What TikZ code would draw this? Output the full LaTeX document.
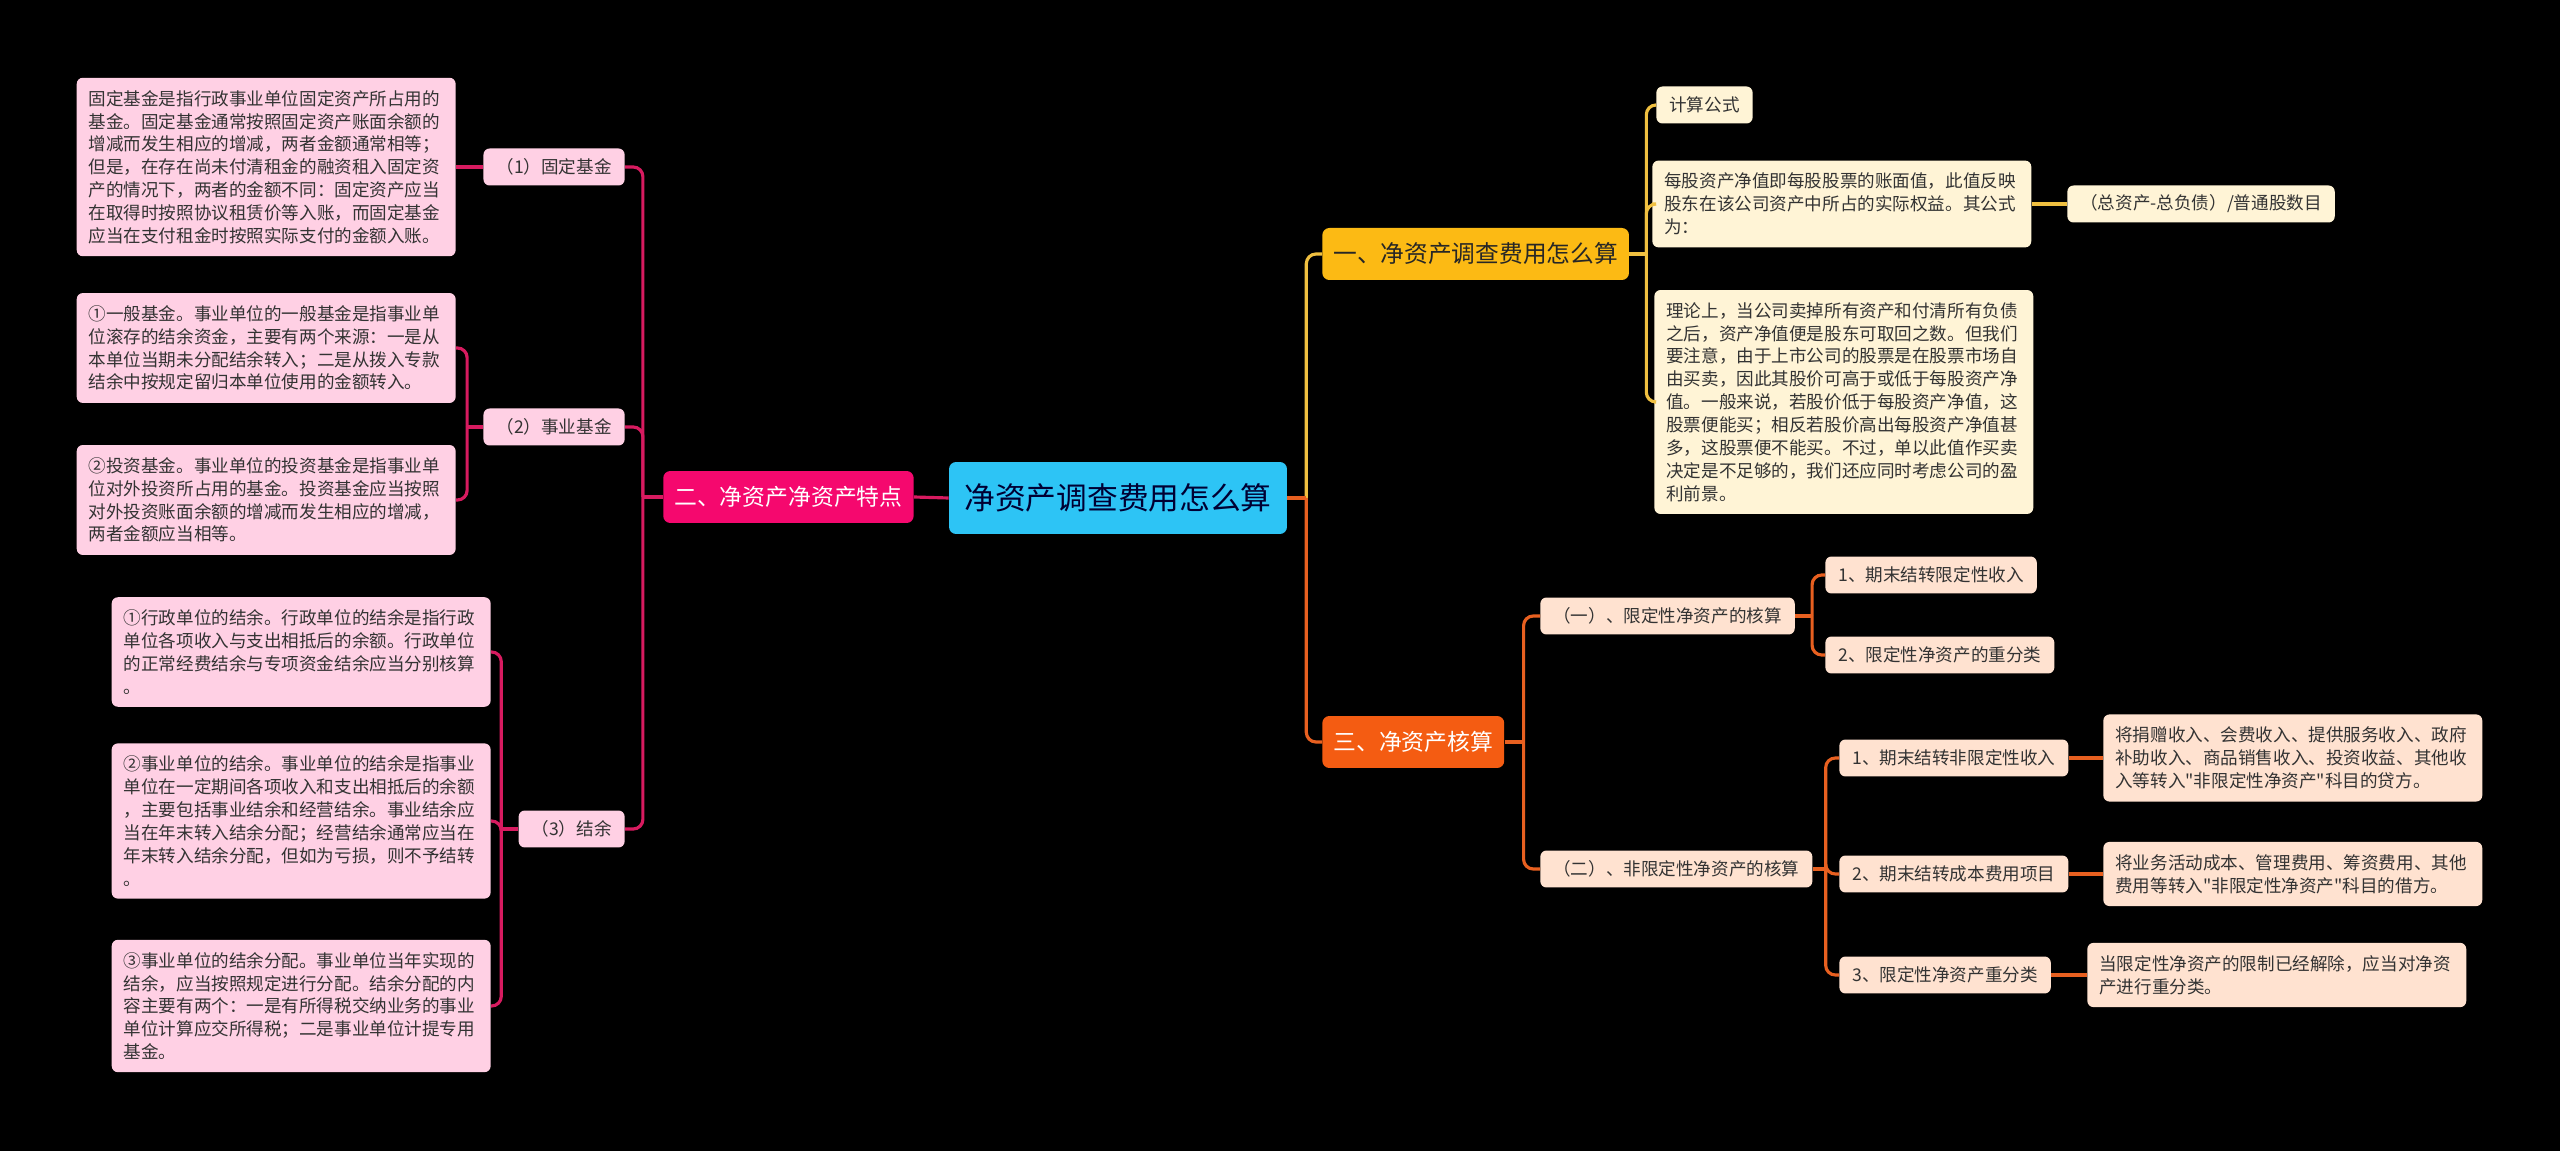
\documentclass[tikz,border=0pt]{standalone}
\usepackage{fontspec}
\setmainfont{Noto Sans CJK SC}[Ligatures=TeXOff]
\usetikzlibrary{positioning}

\definecolor{rootblue}{RGB}{45,196,245}
\definecolor{pinkmain}{RGB}{245,8,110}
\definecolor{pinkleaf}{RGB}{255,208,228}
\definecolor{pinkwire}{RGB}{216,27,96}
\definecolor{yellowmain}{RGB}{252,186,20}
\definecolor{creamleaf}{RGB}{255,244,214}
\definecolor{yellowwire}{RGB}{240,192,64}
\definecolor{orangemain}{RGB}{244,92,18}
\definecolor{peachleaf}{RGB}{255,226,208}
\definecolor{orangewire}{RGB}{232,96,32}

\begin{document}
\begin{tikzpicture}[x=0.02cm, y=-0.02cm,
        rootbox/.style={fill=rootblue, rounded corners=4pt, minimum width=6.76cm, minimum height=1.44cm, text=black!80!blue, font=\fontsize{17.5}{20}\selectfont},
        mainbox/.style={rounded corners=4pt, minimum height=1.04cm, inner xsep=0.22cm, font=\fontsize{13}{15}\selectfont},
        itembox/.style={rounded corners=3.5pt, minimum height=0.74cm, inner xsep=0.26cm, inner ysep=0pt, text=black!80, font=\fontsize{10}{13}\selectfont},
        notebox/.style={rounded corners=3.5pt, text width=7.1cm, align=left, inner xsep=0.24cm, inner ysep=0.25cm, text=black!80, font=\fontsize{10}{13}\selectfont},
        pinkline/.style={draw=pinkwire, line width=1.8pt},
        yellowline/.style={draw=yellowwire, line width=1.8pt},
        orangeline/.style={draw=orangewire, line width=1.8pt},
        elbow/.style={rounded corners=5.5pt}
    ]

    % background
    \fill[black] (0,0) rectangle (2560,1151);

    % centre and main topics
    \node[rootbox] (root) at (1118,498) {净资产调查费用怎么算};
    \node[mainbox, fill=pinkmain, text=white, anchor=east] (two) at (914,497) {二、净资产净资产特点};
    \node[mainbox, fill=yellowmain, text=black!85, font=\fontsize{13.5}{16}\selectfont, minimum width=6cm, anchor=west] (one) at (1322,254) {一、净资产调查费用怎么算};
    \node[mainbox, fill=orangemain, text=white, anchor=west] (three) at (1322,742) {三、净资产核算};

    % left side
    \node[itembox, fill=pinkleaf, anchor=east] (fixed) at (625,167) {（1）固定基金};
    \node[itembox, fill=pinkleaf, anchor=east] (career) at (625,427) {（2）事业基金};
    \node[itembox, fill=pinkleaf, anchor=east] (surplus) at (625,829) {（3）结余};

    \node[notebox, fill=pinkleaf, anchor=east] (fixednote) at (456,167) {固定基金是指行政事业单位固定资产所占用的\\基金。固定基金通常按照固定资产账面余额的\\增减而发生相应的增减，两者金额通常相等；\\但是，在存在尚未付清租金的融资租入固定资\\产的情况下，两者的金额不同：固定资产应当\\在取得时按照协议租赁价等入账，而固定基金\\应当在支付租金时按照实际支付的金额入账。};
    \node[notebox, fill=pinkleaf, anchor=east] (general) at (456,348) {①一般基金。事业单位的一般基金是指事业单\\位滚存的结余资金，主要有两个来源：一是从\\本单位当期未分配结余转入；二是从拨入专款\\结余中按规定留归本单位使用的金额转入。};
    \node[notebox, fill=pinkleaf, anchor=east] (invest) at (456,500) {②投资基金。事业单位的投资基金是指事业单\\位对外投资所占用的基金。投资基金应当按照\\对外投资账面余额的增减而发生相应的增减，\\两者金额应当相等。};
    \node[notebox, fill=pinkleaf, anchor=east] (admin) at (491,652) {①行政单位的结余。行政单位的结余是指行政\\单位各项收入与支出相抵后的余额。行政单位\\的正常经费结余与专项资金结余应当分别核算\\。};
    \node[notebox, fill=pinkleaf, anchor=east] (unit) at (491,821) {②事业单位的结余。事业单位的结余是指事业\\单位在一定期间各项收入和支出相抵后的余额\\，主要包括事业结余和经营结余。事业结余应\\当在年末转入结余分配；经营结余通常应当在\\年末转入结余分配，但如为亏损，则不予结转\\。};
    \node[notebox, fill=pinkleaf, anchor=east] (share) at (491,1006) {③事业单位的结余分配。事业单位当年实现的\\结余，应当按照规定进行分配。结余分配的内\\容主要有两个：一是有所得税交纳业务的事业\\单位计算应交所得税；二是事业单位计提专用\\基金。};

    % right side, first branch
    \node[itembox, fill=creamleaf, anchor=west] (formula) at (1656,105) {计算公式};
    \node[notebox, fill=creamleaf, anchor=west] (pershare) at (1652,204) {每股资产净值即每股股票的账面值，此值反映\\股东在该公司资产中所占的实际权益。其公式\\为：};
    \node[itembox, fill=creamleaf, anchor=west] (ratio) at (2067,204) {（总资产-总负债）/普通股数目};
    \node[notebox, fill=creamleaf, anchor=west] (theory) at (1654,402) {理论上，当公司卖掉所有资产和付清所有负债\\之后，资产净值便是股东可取回之数。但我们\\要注意，由于上市公司的股票是在股票市场自\\由买卖，因此其股价可高于或低于每股资产净\\值。一般来说，若股价低于每股资产净值，这\\股票便能买；相反若股价高出每股资产净值甚\\多，这股票便不能买。不过，单以此值作买卖\\决定是不足够的，我们还应同时考虑公司的盈\\利前景。};

    % right side, second branch
    \node[itembox, fill=peachleaf, anchor=west] (restricted) at (1540,616) {（一）、限定性净资产的核算};
    \node[itembox, fill=peachleaf, anchor=west] (rone) at (1825,575) {1、期末结转限定性收入};
    \node[itembox, fill=peachleaf, anchor=west] (rtwo) at (1825,655) {2、限定性净资产的重分类};
    \node[itembox, fill=peachleaf, anchor=west] (free) at (1540,869) {（二）、非限定性净资产的核算};
    \node[itembox, fill=peachleaf, anchor=west] (fone) at (1839,758) {1、期末结转非限定性收入};
    \node[itembox, fill=peachleaf, anchor=west] (ftwo) at (1839,874) {2、期末结转成本费用项目};
    \node[itembox, fill=peachleaf, anchor=west] (fthree) at (1839,975) {3、限定性净资产重分类};
    \node[notebox, fill=peachleaf, anchor=west] (fonenote) at (2103,758) {将捐赠收入、会费收入、提供服务收入、政府\\补助收入、商品销售收入、投资收益、其他收\\入等转入"非限定性净资产"科目的贷方。};
    \node[notebox, fill=peachleaf, anchor=west] (ftwonote) at (2103,874) {将业务活动成本、管理费用、筹资费用、其他\\费用等转入"非限定性净资产"科目的借方。};
    \node[notebox, fill=peachleaf, anchor=west] (fthreenote) at (2087,975) {当限定性净资产的限制已经解除，应当对净资\\产进行重分类。};

    % bus points
    \coordinate (rootbus) at ([xshift=0.38cm]root.east);
    \coordinate (twobus) at ([xshift=-0.4cm]two.west);
    \coordinate (careerbus) at ([xshift=-0.32cm]career.west);
    \coordinate (surplusbus) at ([xshift=-0.34cm]surplus.west);
    \coordinate (onebus) at ([xshift=0.34cm]one.east);
    \coordinate (threebus) at ([xshift=0.38cm]three.east);
    \coordinate (restrictedbus) at ([xshift=0.34cm]restricted.east);
    \coordinate (freebus) at ([xshift=0.26cm]free.east);

    % connectors, left
    \draw[pinkline] (root.west) -- (two.east);
    \draw[pinkline] (two.west) -- (twobus);
    \draw[pinkline, elbow] (twobus) |- (fixed.east);
    \draw[pinkline, elbow] (twobus) |- (career.east);
    \draw[pinkline, elbow] (twobus) |- (surplus.east);
    \draw[pinkline] (fixed.west) -- (fixednote.east);
    \draw[pinkline] (career.west) -- (careerbus);
    \draw[pinkline, elbow] (careerbus) |- (general.east);
    \draw[pinkline, elbow] (careerbus) |- (invest.east);
    \draw[pinkline] (surplus.west) -- (surplusbus);
    \draw[pinkline, elbow] (surplusbus) |- (admin.east);
    \draw[pinkline, elbow] (surplusbus) |- (unit.east);
    \draw[pinkline, elbow] (surplusbus) |- (share.east);

    % connectors, right
    \draw[yellowline, elbow] (rootbus) |- (one.west);
    \draw[orangeline] (root.east) -- (rootbus);
    \draw[orangeline, elbow] (rootbus) |- (three.west);
    \draw[yellowline] (one.east) -- (onebus);
    \draw[yellowline, elbow] (onebus) |- (formula.west);
    \draw[yellowline, elbow] (onebus) |- (pershare.west);
    \draw[yellowline, elbow] (onebus) |- (theory.west);
    \draw[yellowline] (pershare.east) -- (ratio.west);
    \draw[orangeline] (three.east) -- (threebus);
    \draw[orangeline, elbow] (threebus) |- (restricted.west);
    \draw[orangeline, elbow] (threebus) |- (free.west);
    \draw[orangeline] (restricted.east) -- (restrictedbus);
    \draw[orangeline, elbow] (restrictedbus) |- (rone.west);
    \draw[orangeline, elbow] (restrictedbus) |- (rtwo.west);
    \draw[orangeline] (free.east) -- (freebus);
    \draw[orangeline, elbow] (freebus) |- (fone.west);
    \draw[orangeline, elbow] (freebus) |- (ftwo.west);
    \draw[orangeline, elbow] (freebus) |- (fthree.west);
    \draw[orangeline] (fone.east) -- (fonenote.west);
    \draw[orangeline] (ftwo.east) -- (ftwonote.west);
    \draw[orangeline] (fthree.east) -- (fthreenote.west);

\end{tikzpicture}
\end{document}
